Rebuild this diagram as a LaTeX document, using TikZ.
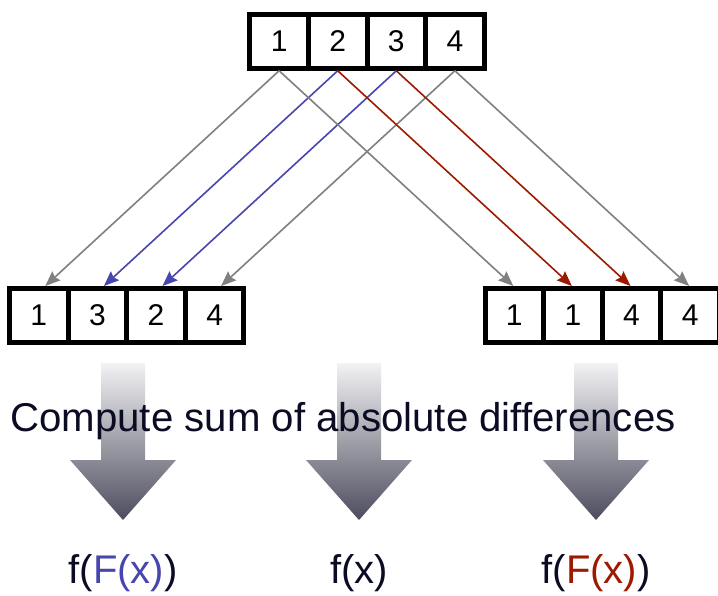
\documentclass[tikz,border=0pt]{standalone}
\usepackage{fontspec}
\setmainfont{Liberation Sans}
\usetikzlibrary{arrows.meta}
\definecolor{gArrow}{HTML}{808080}
\definecolor{bArrow}{HTML}{4646AE}
\definecolor{rArrow}{HTML}{9C1A00}
\definecolor{inkdark}{HTML}{0B0B24}
\definecolor{shadeTop}{HTML}{F2F2F4}
\definecolor{shadeBot}{HTML}{4C4C5E}
\tikzset{
  cell/.style={draw=black, line width=5pt, fill=white, minimum width=58.6pt,
    minimum height=54pt, inner sep=0pt, text=black,
    font=\fontsize{30pt}{36pt}\selectfont},
  link/.style={line width=1.6pt, -{Stealth[length=15pt,width=12pt,inset=2pt]}},
  bigarrow/.style={top color=shadeTop, bottom color=shadeBot, draw=none},
  caption/.style={font=\fontsize{40.2pt}{46pt}\selectfont, text=inkdark, inner sep=0pt},
  result/.style={font=\fontsize{40pt}{48pt}\selectfont, text=inkdark, inner sep=0pt, anchor=base}
}
\begin{document}
\begin{tikzpicture}[x=1pt,y=-1pt]
\useasboundingbox (0,0) rectangle (718,595);
\fill[white] (0,0) rectangle (718,595);

% block arrows
\foreach \c in {123,359,596}{
  \shade[bigarrow] (\c-22,363) -- (\c+22,363) -- (\c+22,460) -- (\c+53,460)
    -- (\c,520) -- (\c-53,460) -- (\c-22,460) -- cycle;
}

% arrays
\node[cell] (t1) at (279.1,41.25) {1};
\node[cell] (t2) at (337.7,41.25) {2};
\node[cell] (t3) at (396.3,41.25) {3};
\node[cell] (t4) at (454.9,41.25) {4};

\node[cell] (l1) at (38.8,315.5) {1};
\node[cell] (l2) at (97.4,315.5) {3};
\node[cell] (l3) at (156.0,315.5) {2};
\node[cell] (l4) at (214.6,315.5) {4};

\node[cell] (r1) at (514.3,315.5) {1};
\node[cell] (r2) at (572.9,315.5) {1};
\node[cell] (r3) at (631.5,315.5) {4};
\node[cell] (r4) at (690.1,315.5) {4};

% connectors
\draw[link,gArrow] (t1.south) -- ([xshift=6.5pt]l1.north);
\draw[link,bArrow] (t2.south) -- ([xshift=6.5pt]l2.north);
\draw[link,bArrow] (t3.south) -- ([xshift=6.5pt]l3.north);
\draw[link,gArrow] (t4.south) -- ([xshift=6.5pt]l4.north);

\draw[link,gArrow] (t1.south) -- ([xshift=-1pt]r1.north);
\draw[link,rArrow] (t2.south) -- ([xshift=-1pt]r2.north);
\draw[link,rArrow] (t3.south) -- ([xshift=-1pt]r3.north);
\draw[link,gArrow] (t4.south) -- ([xshift=-1pt]r4.north);

% texts
\node[caption, anchor=base] (caption) at (343,431) {Compute sum of absolute differences};
\node[result] (resL) at (123,583) {f(\textcolor{bArrow}{F(x)})};
\node[result] (resM) at (359,583) {f(x)};
\node[result] (resR) at (596,583) {f(\textcolor{rArrow}{F(x)})};
\end{tikzpicture}
\end{document}
